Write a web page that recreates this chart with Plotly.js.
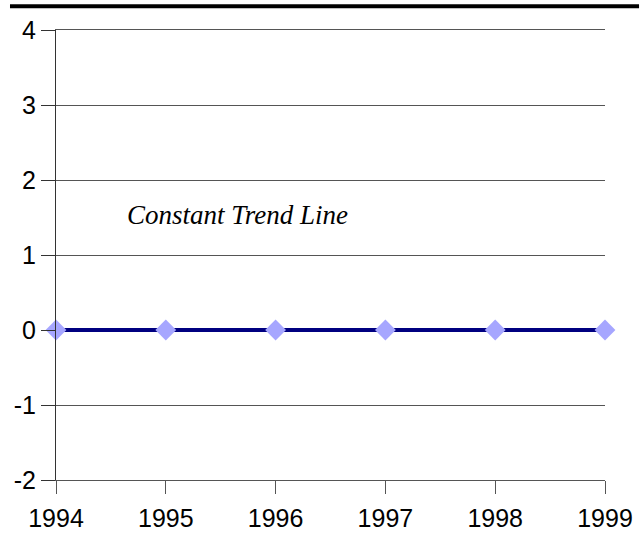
<!DOCTYPE html>
<html>
<head>
<meta charset="utf-8">
<script src="https://cdn.plot.ly/plotly-3.0.1.min.js"></script>
<style>html,body{margin:0;padding:0;background:#fff;}#chart{width:644px;height:533px;}</style>
</head>
<body>
<div id="chart"></div>
<script>
var years = [1994, 1995, 1996, 1997, 1998, 1999];
var values = [0, 0, 0, 0, 0, 0];
var yTicks = [-2, -1, 0, 1, 2, 3, 4];
var yTickLabels = ['-2', '-1', '0', '1', '2', '3', '4'];
var xTickLabels = ['1994', '1995', '1996', '1997', '1998', '1999'];
var annotationText = 'Constant Trend Line';

var trace = {
  x: years,
  y: values,
  type: 'scatter',
  mode: 'lines+markers',
  line: {color: '#000080', width: 4},
  marker: {symbol: 'diamond', size: 16, color: '#a6a6ff'},
  cliponaxis: false,
  hoverinfo: 'none'
};

var layout = {
  width: 644,
  height: 533,
  margin: {l: 56, r: 39, t: 30, b: 53},
  paper_bgcolor: '#ffffff',
  plot_bgcolor: '#ffffff',
  showlegend: false,
  font: {family: 'Liberation Sans, Arial, sans-serif', size: 25, color: '#000'},
  xaxis: {
    range: [1994, 1999],
    tickvals: years,
    ticktext: xTickLabels,
    showgrid: false,
    zeroline: false,
    showline: true,
    mirror: true,
    linecolor: '#555',
    linewidth: 1,
    ticks: 'outside',
    ticklen: 13,
    tickcolor: '#555',
    tickwidth: 1,
    ticklabelstandoff: 3,
    tickfont: {size: 25}
  },
  yaxis: {
    range: [-2, 4],
    tickvals: yTicks,
    ticktext: yTickLabels,
    showgrid: true,
    gridcolor: '#555',
    gridwidth: 1,
    zeroline: false,
    showline: true,
    linecolor: '#333',
    linewidth: 1,
    ticks: 'outside',
    ticklen: 14,
    tickcolor: '#333',
    tickwidth: 1,
    tickfont: {size: 25}
  },
  shapes: [{
    type: 'line', xref: 'paper', yref: 'paper',
    x0: -0.0838, x1: 1.062, y0: 1.053, y1: 1.053,
    line: {color: '#000', width: 4}
  }],
  annotations: [{
    x: 1994.63, y: 1.53, xref: 'x', yref: 'y',
    xanchor: 'left', yanchor: 'middle',
    text: '<i>' + annotationText + '</i>',
    showarrow: false,
    font: {family: 'Liberation Serif, Times New Roman, serif', size: 27, color: '#000'}
  }]
};

Plotly.newPlot('chart', [trace], layout, {displayModeBar: false, staticPlot: true});
</script>
</body>
</html>
